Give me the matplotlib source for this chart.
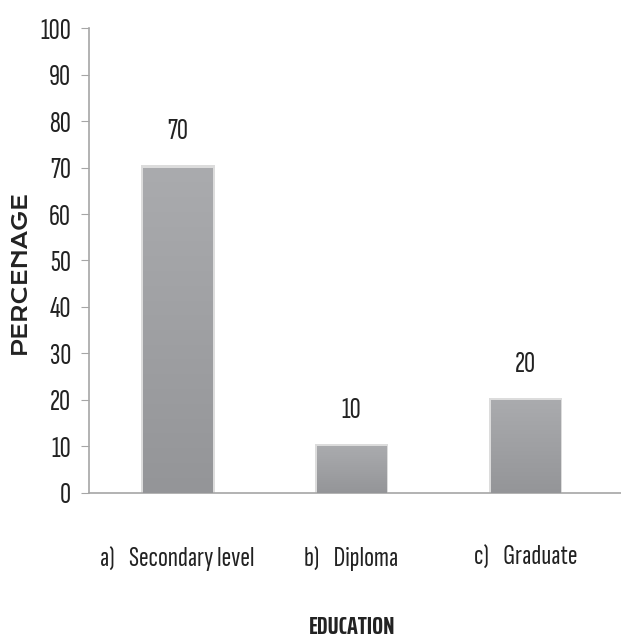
import matplotlib

matplotlib.use("Agg")

import matplotlib.pyplot as plt
import numpy as np
from matplotlib.colors import LinearSegmentedColormap
from matplotlib.patches import Rectangle

# Data
categories = ["a)    Secondary level", "b)    Diploma", "c)    Graduate"]
values = [70, 10, 20]
y_ticks = [0, 10, 20, 30, 40, 50, 60, 70, 80, 90, 100]

NARROW = ["Sofia Sans Extra Condensed", "Sofia Sans Condensed", "DejaVu Sans"]
BOLD_NARROW = ["Saira ExtraCondensed", "Sofia Sans Condensed", "DejaVu Sans"]
WIDE = ["Krona One", "Michroma", "Archivo Black", "DejaVu Sans"]
AXIS_GRAY = "#a6a6a6"
TEXT = "#222222"

fig = plt.figure(figsize=(6.21, 6.44), dpi=100)
ax = fig.add_axes([0.1433, 0.2345, 0.8567, 0.722])

x = np.arange(len(values))
bar_w = 0.40
bar_cmap = LinearSegmentedColormap.from_list("bar", ["#949598", "#aaabae"])

# gradient bars: lighter at the top, darker at the bottom
grad = np.linspace(0, 1, 256).reshape(-1, 1)
for xi, v in zip(x, values):
    # soft shadow round the bar
    ax.add_patch(Rectangle((xi - bar_w / 2 - 0.012, 0), bar_w + 0.024, v + 0.5,
                           facecolor="#dcdcdc", edgecolor="none", zorder=1))
    bar = ax.bar(xi, v, width=bar_w, color="#a0a1a4", edgecolor="none", zorder=2)[0]
    im = ax.imshow(grad, extent=(xi - bar_w / 2, xi + bar_w / 2, 0, v),
                   origin="lower", cmap=bar_cmap, aspect="auto", zorder=3)
    im.set_clip_path(bar)
    ax.text(xi, v + 7.7, str(v), ha="center", va="center", fontsize=22,
            family=NARROW, color=TEXT)

ax.set_xlim(-0.51, 2.55)
ax.set_ylim(0, 100)
ax.set_yticks(y_ticks)
ax.set_yticklabels([str(t) for t in y_ticks], family=NARROW, fontsize=22, color=TEXT)
ax.set_xticks(x)
ax.set_xticklabels(categories, family=NARROW, fontsize=21, color=TEXT)
ax.tick_params(axis="y", length=6, color=AXIS_GRAY, pad=7)
ax.tick_params(axis="x", length=0, pad=38)

for s in ("top", "right"):
    ax.spines[s].set_visible(False)
for s in ("left", "bottom"):
    ax.spines[s].set_color(AXIS_GRAY)
    ax.spines[s].set_linewidth(1.2)

ax.set_ylabel("PERCENAGE", fontsize=14.5, family=WIDE, color=TEXT)
ax.yaxis.set_label_coords(-0.11, 0.475)
ax.set_xlabel("EDUCATION", fontsize=18.5, fontweight="bold", family=BOLD_NARROW,
              color=TEXT, va="top")
ax.xaxis.set_label_coords(0.494, -0.262)

fig.savefig("out.png", dpi=100)
